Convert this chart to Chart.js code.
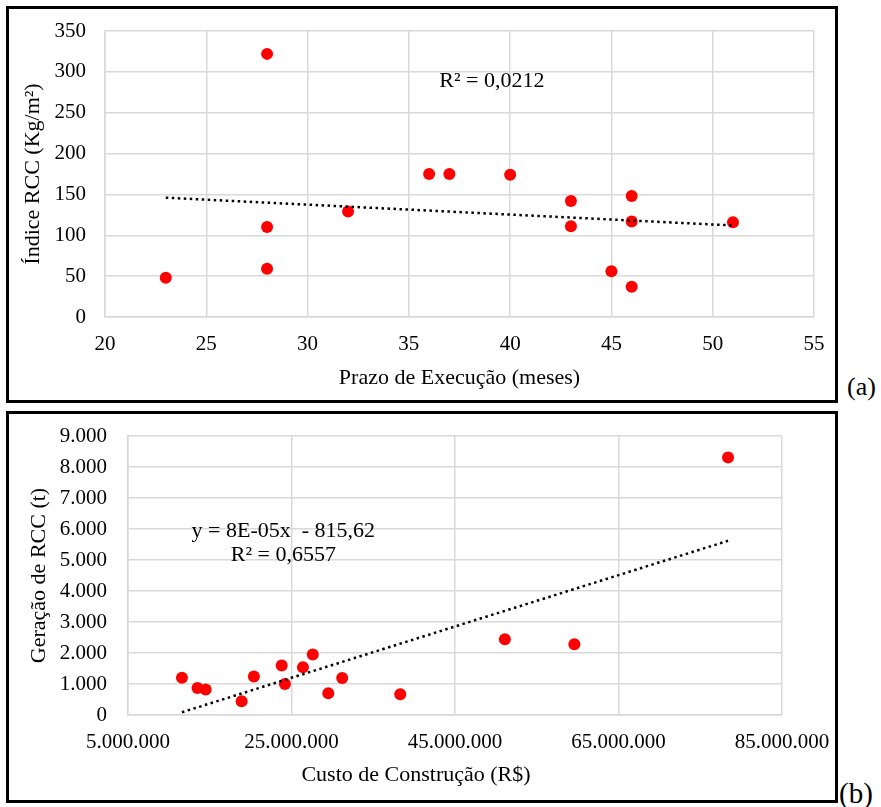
<!DOCTYPE html>
<html><head><meta charset="utf-8">
<script src="https://cdn.jsdelivr.net/npm/chart.js@4.4.1/dist/chart.umd.min.js"></script>
<style>
html,body{margin:0;padding:0;background:#fff;width:881px;height:807px;overflow:hidden;}
.box{position:absolute;border:3px solid #000;box-sizing:border-box;background:#fff;}
canvas{position:absolute;}
.tag{position:absolute;font-family:"Liberation Serif","Times New Roman",serif;color:#000;line-height:1;white-space:nowrap;}
</style></head><body>
<div class="box" style="left:6px;top:6px;width:832px;height:397px"></div>
<div class="box" style="left:6px;top:411px;width:832px;height:392px"></div>
<canvas id="ca" width="826" height="390" style="left:9px;top:9px"></canvas>
<canvas id="cb" width="826" height="386" style="left:9px;top:414px"></canvas>
<div class="tag" style="left:847px;top:374px;font-size:26px">(a)</div>
<div class="tag" style="left:839px;top:779px;font-size:29px">(b)</div>
<script>
// ---- Chart (a): Prazo de Execução x Índice RCC ----
const prazoMeses = [23, 28, 28, 28, 32, 36, 37, 40, 43, 43, 45, 46, 46, 46, 51];
const indiceRCC  = [48, 322, 110, 59, 129, 175, 175, 174, 142, 111, 56, 148, 117, 37, 116];
const trendA_x = [23, 51];
const trendA_y = [146, 112];
const noteA = ['R\u00B2 = 0,0212'];

// ---- Chart (b): Custo de Construção x Geração de RCC ----
const custoConstrucao = [11600000, 13500000, 14500000, 18900000, 20400000, 23800000, 24200000, 26400000, 27600000, 29500000, 31200000, 38300000, 51100000, 59600000, 78400000];
const geracaoRCC      = [1200, 870, 820, 440, 1240, 1600, 1000, 1540, 1950, 700, 1190, 670, 2440, 2280, 8310];
const trendB_x = [11600000, 78400000];
const trendB_y = [90, 5620];
const noteB = ['y = 8E-05x  - 815,62', 'R\u00B2 = 0,6557'];

const FONT = '"Liberation Serif", "Times New Roman", serif';
const GRID = '#d9d9d9';
const fmtBR = v => String(Math.round(v)).replace(/\B(?=(\d{3})+(?!\d))/g, '.');
const pts = (xs, ys) => xs.map((x, i) => ({x, y: ys[i]}));

const notesPlugin = {
  id: 'notes',
  afterDatasetsDraw(chart, args, opts) {
    if (!opts || !opts.items) return;
    const ctx = chart.ctx;
    ctx.save();
    ctx.fillStyle = '#000';
    for (const n of opts.items) {
      ctx.font = (n.size || 22) + 'px ' + FONT;
      ctx.textAlign = n.align || 'left';
      let x, y;
      if (n.px) { [x, y] = n.px(chart); ctx.textBaseline = 'middle'; }
      else { x = chart.scales.x.getPixelForValue(n.x); y = chart.scales.y.getPixelForValue(n.y); ctx.textBaseline = 'alphabetic'; }
      ctx.fillText(n.text, x, y);
    }
    ctx.restore();
  }
};
Chart.register(notesPlugin);

function tickFont() { return {family: FONT, size: 21}; }
function titleFont() { return {family: FONT, size: 22}; }

function makeChart(id, cfg) {
  return new Chart(document.getElementById(id), {
    type: 'scatter',
    data: {
      datasets: [
        {data: cfg.trend, showLine: true, borderColor: '#000', borderWidth: 2.5,
         borderDash: [2.5, 3.5], pointRadius: 0, fill: false, order: 0},
        {data: cfg.points, backgroundColor: '#ff0000', borderWidth: 0,
         pointRadius: 6, pointHoverRadius: 6, order: 1}
      ]
    },
    options: {
      responsive: false, animation: false,
      layout: {padding: cfg.padding},
      plugins: {legend: {display: false}, tooltip: {enabled: false}, notes: {items: cfg.notes}},
      scales: {
        x: {
          type: 'linear', min: cfg.xMin, max: cfg.xMax,
          ticks: {stepSize: cfg.xStep, padding: 15, font: tickFont(), color: '#000', callback: cfg.xFmt, maxRotation: 0, autoSkip: false},
          grid: {color: GRID, lineWidth: 1.5, drawTicks: false},
          border: {color: GRID, width: 1.5},
          title: {display: !!cfg.xTitle, text: cfg.xTitle, font: titleFont(), color: '#000', padding: {top: 0, bottom: cfg.xTitlePad}},
          afterFit: s => { s.height = cfg.xH; s.paddingLeft = 0; s.paddingRight = 0; }
        },
        y: {
          min: cfg.yMin, max: cfg.yMax,
          ticks: {stepSize: cfg.yStep, padding: cfg.yTickPad, font: tickFont(), color: '#000', callback: cfg.yFmt},
          grid: {color: GRID, lineWidth: 1.5, drawTicks: false},
          border: {color: GRID, width: 1.5},
          title: {display: true, text: cfg.yTitle, font: titleFont(), color: '#000', padding: {top: cfg.yTitlePad, bottom: 0}},
          afterFit: s => { s.width = cfg.yW; s.paddingTop = 0; s.paddingBottom = 0; }
        }
      }
    }
  });
}

makeChart('ca', {
  points: pts(prazoMeses, indiceRCC),
  trend: pts(trendA_x, trendA_y),
  xMin: 20, xMax: 55, xStep: 5, yMin: 0, yMax: 350, yStep: 50,
  xFmt: v => String(v), yFmt: v => String(v),
  xTitle: 'Prazo de Execução (meses)', yTitle: 'Índice RCC (Kg/m²)',
  padding: {left: 0, top: 22, right: 21, bottom: 0},
  xH: 82, yW: 96, yTickPad: 19, xTitlePad: 8, yTitlePad: 11,
  notes: [{text: noteA[0], x: 36.5, y: 282, align: 'left'}]
});

makeChart('cb', {
  points: pts(custoConstrucao, geracaoRCC),
  trend: pts(trendB_x, trendB_y),
  xMin: 5000000, xMax: 85000000, xStep: 20000000, yMin: 0, yMax: 9000, yStep: 1000,
  xFmt: v => fmtBR(v), yFmt: v => fmtBR(v),
  xTitle: '', yTitle: 'Geração de RCC (t)',
  padding: {left: 0, top: 22, right: 53, bottom: 0},
  xH: 85, yW: 119, yTickPad: 21, xTitlePad: 11, yTitlePad: 17,
  notes: [
    {text: noteB[0], x: 24000000, y: 5742, align: 'center'},
    {text: noteB[1], x: 24000000, y: 4952, align: 'center'},
    {text: 'Custo de Construção (R$)', px: c => [c.width / 2 - 6, 361], align: 'center'}
  ]
});
</script>
</body></html>
